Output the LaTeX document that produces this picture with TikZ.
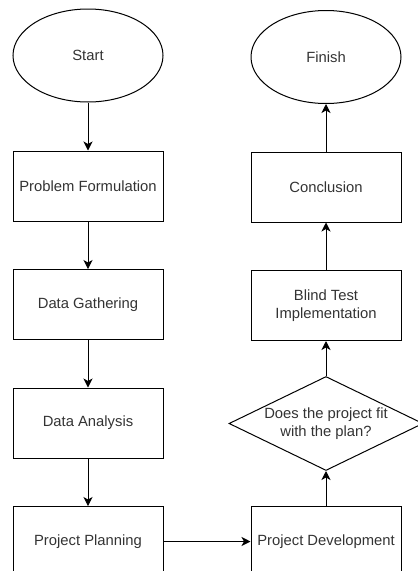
\documentclass[tikz,border=0pt]{standalone}
\usepackage{fontspec}
\setmainfont{Liberation Sans}
\usepackage{xcolor}
\usepackage{tikz}
\usetikzlibrary{shapes.geometric, arrows.meta, positioning}

\begin{document}
\begin{tikzpicture}[x=1pt, y=1pt, node distance=47.5pt, line width=1pt,
  >={Stealth[length=9pt, width=9pt, inset=2.5pt]},
  font=\fontsize{14.8}{17.5}\selectfont, text=black!80]
\useasboundingbox (0,0) rectangle (418,-571);
\tikzset{
  startstop/.style={ellipse, draw, minimum width=150pt, minimum height=93pt, inner sep=0pt},
  process/.style={rectangle, draw, minimum width=150pt, minimum height=70pt, inner sep=0pt, align=center},
  decision/.style={diamond, draw, minimum width=194pt, minimum height=94pt, aspect=2.1, inner sep=0pt, align=center}
}
\node (start) [startstop] at (88,-55.5) {Start};
\node (formulate) [process, below=48pt of start] {Problem Formulation};
\node (gather) [process, below=of formulate] {Data Gathering};
\node (analyse) [process, below=of gather] {Data Analysis};
\node (plan) [process, below=of analyse] {Project Planning};
\node (develop) [process, right=87pt of plan] {Project Development};
\node (fit) [decision, above=35pt of develop] {Does the project fit\\with the plan?};
\node (blind) [process, above=35pt of fit] {Blind Test\\Implementation};
\node (conclude) [process, above=of blind] {Conclusion};
\node (finish) [startstop, above=of conclude] {Finish};
\draw [->] (start) -- (formulate);
\draw [->] (formulate) -- (gather);
\draw [->] (gather) -- (analyse);
\draw [->] (analyse) -- (plan);
\draw [->] (plan) -- (develop);
\draw [->] (develop) -- (fit);
\draw [->] (fit) -- (blind);
\draw [->] (blind) -- (conclude);
\draw [->] (conclude) -- (finish);
\end{tikzpicture}
\end{document}
